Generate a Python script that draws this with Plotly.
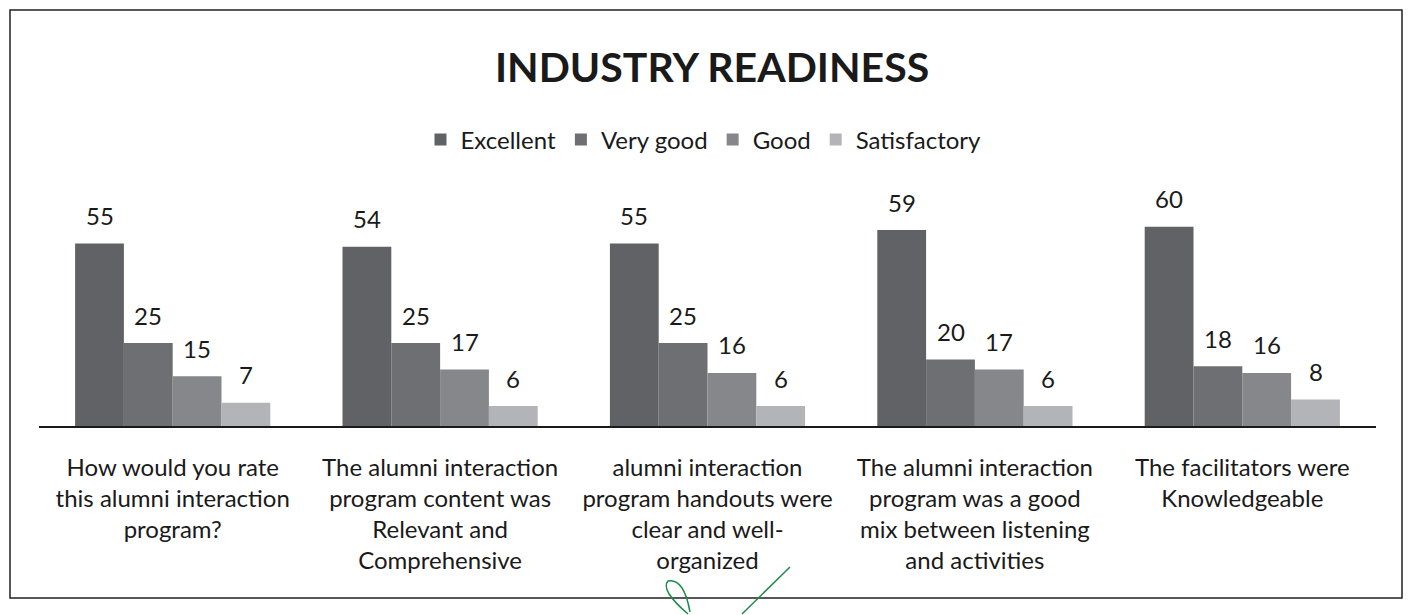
import plotly.graph_objects as go

# Survey questions (category axis) and rating counts per series
categories = [
    "How would you rate<br>this alumni interaction<br>program?",
    "The alumni interaction<br>program content was<br>Relevant and<br>Comprehensive",
    "alumni interaction<br>program handouts were<br>clear and well-<br>organized",
    "The alumni interaction<br>program was a good<br>mix between listening<br>and activities",
    "The facilitators were<br>Knowledgeable",
]
series_names = ["Excellent", "Very good", "Good", "Satisfactory"]
excellent = [55, 54, 55, 59, 60]
very_good = [25, 25, 25, 20, 18]
good = [15, 17, 16, 17, 16]
satisfactory = [7, 6, 6, 6, 8]
series_values = [excellent, very_good, good, satisfactory]
colors = ["#606266", "#6d6f73", "#85878b", "#b3b4b8"]

FONT = "Lato, Carlito, Calibri, sans-serif"
W, H = 1410, 615
L, R, T, B = 39, 34, 200, 189
BARGAP = 0.27

fig = go.Figure()
for name, vals, col in zip(series_names, series_values, colors):
    fig.add_trace(go.Bar(
        name=name, x=categories, y=vals,
        marker=dict(color=col, line=dict(width=0)),
    ))

# value labels above each bar, positioned from the grouped-bar offsets
n = len(series_names)
bw = (1 - BARGAP) / n
annotations = []
for j, vals in enumerate(series_values):
    for i, v in enumerate(vals):
        annotations.append(dict(
            x=i + (j - (n - 1) / 2) * bw, y=v, xref="x", yref="y",
            text=str(v), showarrow=False, yanchor="middle", yshift=28,
            font=dict(family=FONT, size=24, color="#1a1a1a"),
        ))

pw, ph = W - L - R, H - T - B
def paper_x(p):
    return (p - L) / pw
def paper_y(p):
    return (H - B - p) / ph

shapes = [
    # outer frame
    dict(type="rect", xref="paper", yref="paper",
         x0=paper_x(10), x1=paper_x(1402), y0=paper_y(598), y1=paper_y(10),
         line=dict(color="#222222", width=1.5)),
    # pen tick mark below the frame
    dict(type="path", xref="paper", yref="paper",
         path=("M {},{} Q {},{} {},{} Q {},{} {},{}".format(
             paper_x(688), paper_y(614), paper_x(660), paper_y(590),
             paper_x(668), paper_y(581), paper_x(684), paper_y(578),
             paper_x(690), paper_y(612))),
         line=dict(color="#1f8a4a", width=1.5)),
    dict(type="line", xref="paper", yref="paper",
         x0=paper_x(742), y0=paper_y(614), x1=paper_x(790), y1=paper_y(567),
         line=dict(color="#1f8a4a", width=1.5)),
]

fig.update_layout(
    width=W, height=H,
    margin=dict(l=L, r=R, t=T, b=B, pad=0),
    paper_bgcolor="white", plot_bgcolor="white",
    barmode="group", bargap=BARGAP, bargroupgap=0,
    title=dict(text="<b>INDUSTRY READINESS</b>", x=0.505, xanchor="center",
               y=1 - 68 / H, yanchor="middle", yref="container",
               font=dict(family=FONT, size=41, color="#1a1a1a")),
    legend=dict(orientation="h", x=0.497, xanchor="center",
                y=paper_y(140), yanchor="middle",
                font=dict(family=FONT, size=24, color="#1a1a1a"),
                itemwidth=30, traceorder="normal"),
    font=dict(family=FONT, color="#1a1a1a"),
    annotations=annotations,
    shapes=shapes,
    xaxis=dict(showline=True, linecolor="#1a1a1a", linewidth=1.5,
               ticks="", showgrid=False, ticklabelstandoff=19,
               tickfont=dict(family=FONT, size=24, color="#1a1a1a")),
    yaxis=dict(range=[0, (H - B - T) / 3.32], visible=False, showgrid=False),
)

fig.write_html("out.html")
